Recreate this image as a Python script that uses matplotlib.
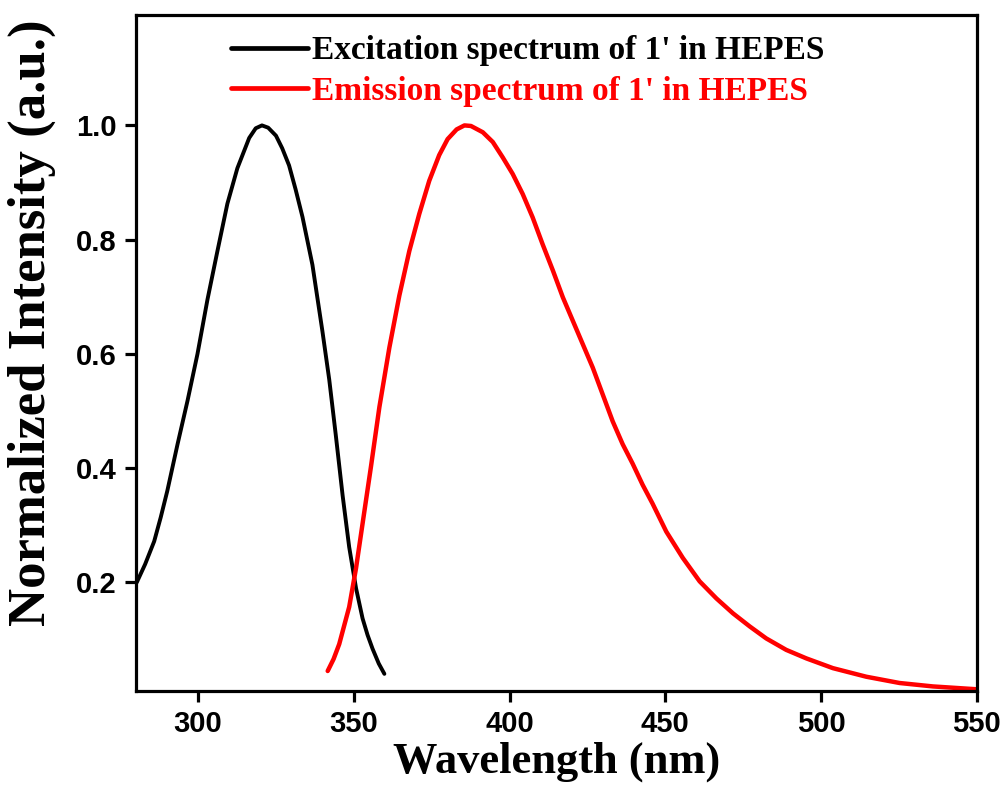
import matplotlib
matplotlib.use('Agg')
import matplotlib.pyplot as plt

# excitation spectrum
ex_wl = [280.3, 283.0, 285.9, 288.0, 290.1, 293.4, 296.6, 299.8, 303.0, 306.2,
         309.4, 312.6, 316.4, 318.5, 320.5, 322.5, 325.0, 327.0, 329.2, 331.3,
         333.5, 336.7, 339.9, 342.1, 344.2, 346.4, 348.5, 350.7, 352.8, 354.4,
         356.0, 358.0, 359.8]
ex_int = [0.200, 0.232, 0.272, 0.314, 0.360, 0.442, 0.518, 0.600, 0.695, 0.780,
          0.863, 0.925, 0.978, 0.995, 1.000, 0.996, 0.982, 0.960, 0.930, 0.888,
          0.840, 0.756, 0.640, 0.555, 0.458, 0.352, 0.262, 0.190, 0.137, 0.108,
          0.084, 0.058, 0.040]

# emission spectrum
em_wl = [341.6, 343.5, 345.3, 348.5, 350.7, 352.8, 355.5, 358.2, 361.4, 364.6,
         367.8, 371.0, 374.2, 377.4, 380.1, 383.0, 385.5, 387.6, 391.4, 394.6,
         397.8, 401.0, 404.2, 407.4, 410.6, 413.9, 417.1, 420.3, 423.5, 426.7,
         429.9, 433.1, 436.3, 439.5, 442.7, 445.9, 450.3, 455.6, 461.0, 466.4,
         471.7, 477.1, 482.4, 488.8, 495.3, 503.8, 514.5, 525.2, 535.9, 550.0]
em_int = [0.045, 0.066, 0.092, 0.157, 0.225, 0.303, 0.403, 0.507, 0.611, 0.702,
          0.780, 0.845, 0.903, 0.948, 0.976, 0.993, 1.000, 0.999, 0.988, 0.971,
          0.944, 0.915, 0.880, 0.839, 0.792, 0.746, 0.699, 0.658, 0.617, 0.576,
          0.529, 0.482, 0.442, 0.408, 0.371, 0.338, 0.289, 0.243, 0.202, 0.172,
          0.146, 0.123, 0.102, 0.082, 0.067, 0.050, 0.035, 0.024, 0.018, 0.013]

ex_label = "Excitation spectrum of 1' in HEPES"
em_label = "Emission spectrum of 1' in HEPES"

fig = plt.figure(figsize=(10.06, 7.97), dpi=100)
ax = fig.add_axes([0.135, 0.133, 0.836, 0.848])

ax.plot(ex_wl, ex_int, color='black', lw=2.8, label=ex_label,
        solid_capstyle='round', solid_joinstyle='round')
ax.plot(em_wl, em_int, color='red', lw=3.2, label=em_label,
        solid_capstyle='round', solid_joinstyle='round')

ax.set_xlim(280, 550)
ax.set_ylim(0.01, 1.193)
ax.set_xticks([300, 350, 400, 450, 500, 550])
ax.set_yticks([0.2, 0.4, 0.6, 0.8, 1.0])

for s in ax.spines.values():
    s.set_linewidth(2.3)
ax.tick_params(direction='out', length=8, width=2.3, pad=6)
for lab in ax.get_xticklabels() + ax.get_yticklabels():
    lab.set_family('Liberation Sans')
    lab.set_fontweight('bold')
    lab.set_fontsize(21)

ax.set_xlabel('Wavelength (nm)', family='Liberation Serif', fontweight='bold',
              fontsize=32, labelpad=2)
ax.set_ylabel('Normalized Intensity (a.u.)', family='Liberation Serif',
              fontweight='bold', fontsize=38)
ax.yaxis.set_label_coords(-0.095, 0.545)

leg = ax.legend(loc='upper left', bbox_to_anchor=(0.113, 0.97), frameon=False,
                prop={'family': 'Liberation Serif', 'weight': 'bold', 'size': 24},
                handlelength=2.3, handletextpad=0.12, labelspacing=0.28,
                borderpad=0, borderaxespad=0)
for line, text in zip(leg.get_lines(), leg.get_texts()):
    line.set_linewidth(3.4)
    text.set_color(line.get_color())

fig.savefig('out.png', dpi=100)
